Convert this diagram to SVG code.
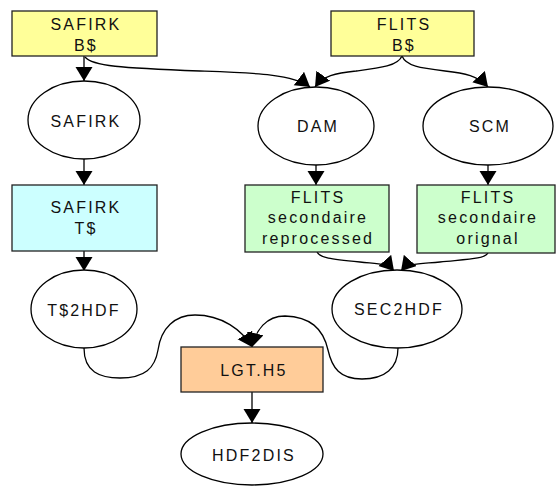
<svg xmlns="http://www.w3.org/2000/svg" width="556" height="487" viewBox="0 0 556 487">
<style>
text{font-family:"Liberation Sans",Arial,sans-serif;font-size:16px;letter-spacing:2.2px;fill:#111;text-anchor:middle}
.box{stroke:#222;stroke-width:1.3}
.ell{fill:#fff;stroke:#000;stroke-width:1.3}
.edge{fill:none;stroke:#000;stroke-width:1.3;marker-end:url(#ah)}
</style>
<defs>
<marker id="ah" markerUnits="userSpaceOnUse" markerWidth="15" markerHeight="18" refX="14" refY="8.5" orient="auto" viewBox="0 0 15 18">
<path d="M0,0 L14,8.5 L0,17 z" fill="#000"/>
</marker>
</defs>
<g id="connectors">
<path class="edge" d="M84,56 L84,81"/>
<path class="edge" d="M85,57 C92,66 120,68 200,71 C255,73 293,74 310,87"/>
<path class="edge" d="M402,56 C398,66 380,68 356,71 C335,73 323,76 315,87"/>
<path class="edge" d="M402,56 C406,66 420,68 445,71 C465,73 478,76 488,87"/>
<path class="edge" d="M84,159 L84,185"/>
<path class="edge" d="M316,165 L316,185"/>
<path class="edge" d="M488,165 L488,185"/>
<path class="edge" d="M84,251 L84,271"/>
<path class="edge" d="M317,252 C320,258 330,259 360,262 C378,264 387,263 394,271"/>
<path class="edge" d="M488,253 C484,259 470,259 440,262 C420,264 408,263 401,271"/>
<path class="edge" d="M84,348 C84,372 100,378 120,378 C145,378 155,368 158,350 C161,328 175,315 195,315 C222,315 242,330 252,347"/>
<path class="edge" d="M398,348 C398,368 385,379 362,379 C340,379 332,368 328,350 C323,328 310,317 285,316 C266,316 256,330 252,347"/>
<path class="edge" d="M252,392 L252,423"/>
</g>
<g id="safirk_b">
<rect class="box" x="12" y="11" width="145" height="45" fill="#ffff99"/>
<text x="86" y="30">SAFIRK</text>
<text x="86" y="51">B$</text>
</g>
<g id="flits_b">
<rect class="box" x="331" y="11" width="143" height="45" fill="#ffff99"/>
<text x="404" y="30">FLITS</text>
<text x="404" y="51">B$</text>
</g>
<g id="safirk">
<ellipse class="ell" cx="84" cy="120" rx="56" ry="39"/>
<text x="86" y="127">SAFIRK</text>
</g>
<g id="dam">
<ellipse class="ell" cx="316" cy="126" rx="58" ry="39"/>
<text x="318" y="132">DAM</text>
</g>
<g id="scm">
<ellipse class="ell" cx="488" cy="126" rx="65" ry="39"/>
<text x="490" y="132">SCM</text>
</g>
<g id="safirk_t">
<rect class="box" x="12" y="185" width="145" height="66" fill="#ccffff"/>
<text x="86" y="213">SAFIRK</text>
<text x="86" y="234">T$</text>
</g>
<g id="flits_sec_rep">
<rect class="box" x="245" y="185" width="144" height="67" fill="#ccffcc"/>
<text x="318" y="203">FLITS</text>
<text x="318" y="223">secondaire</text>
<text x="318" y="244">reprocessed</text>
</g>
<g id="flits_sec_org">
<rect class="box" x="417" y="185" width="138" height="68" fill="#ccffcc"/>
<text x="488" y="203">FLITS</text>
<text x="488" y="223">secondaire</text>
<text x="488" y="244">orignal</text>
</g>
<g id="t2hdf">
<ellipse class="ell" cx="84" cy="309" rx="53" ry="39"/>
<text x="84" y="316">T$2HDF</text>
</g>
<g id="sec2hdf">
<ellipse class="ell" cx="397" cy="309" rx="65" ry="39"/>
<text x="399" y="315">SEC2HDF</text>
</g>
<g id="lgt">
<rect class="box" x="181" y="347" width="142" height="45" fill="#ffcc99"/>
<text x="254" y="376">LGT.H5</text>
</g>
<g id="hdf2dis">
<ellipse class="ell" cx="252" cy="454" rx="71" ry="31"/>
<text x="254" y="461">HDF2DIS</text>
</g>
</svg>
